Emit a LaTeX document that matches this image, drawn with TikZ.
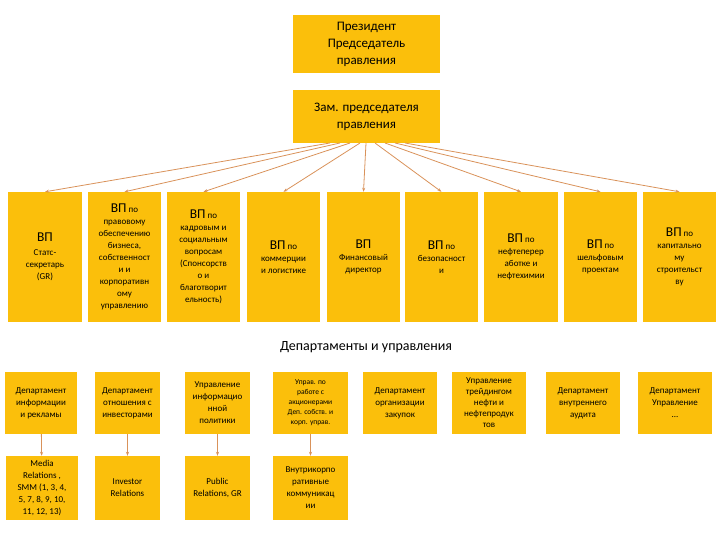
\documentclass[tikz,border=0pt]{standalone}
\usepackage{fontspec}
\setmainfont{Carlito}
\usetikzlibrary{arrows.meta}
\begin{document}
\begin{tikzpicture}[x=1pt,y=-1pt,
 ar/.style={draw=arc,line width=0.8pt,-{Stealth[length=4pt,width=3pt]}}]
\definecolor{boxc}{HTML}{FBBF0B}
\definecolor{arc}{HTML}{D9925A}
\useasboundingbox (0,0) rectangle (720,540);
\tikzset{box/.style args={#1/#2/#3/#4}{fill=boxc,draw=none,inner sep=0pt,align=center,font=\fontsize{9}{12}\selectfont,minimum width=#3-#1,minimum height=#4-#2},
 big/.style={font=\fontsize{13}{17}\selectfont}}
\newcommand{\B}[7][]{\node[box=#3/#4/#5/#6,#1] (#2) at ({(#3+#5)/2},{(#4+#6)/2}) {#7};}
\newcommand{\VP}{{\fontsize{13.5}{15}\selectfont ВП}}
\B[big]{pres}{293}{15}{440}{73}{Президент\\ Председатель\\ правления}
\B[big]{zam}{293}{90}{440}{143}{Зам. председателя\\ правления}
\B{v1}{8}{192}{82}{322}{\VP\\[2pt] Статс-\\ секретарь\\ (GR)}
\B{v2}{88}{192}{161}{322}{\VP{} по\\ правовому\\ обеспечению\\ бизнеса,\\ собственност\\ и и\\ корпоративн\\ ому\\ управлению}
\B{v3}{167}{192}{240}{322}{\VP{} по\\ кадровым и\\ социальным\\ вопросам\\ (Спонсорств\\ о и\\ благотворит\\ ельность)}
\B{v4}{247}{192}{320}{322}{\VP{} по\\ коммерции\\ и логистике}
\B{v5}{327}{192}{400}{322}{\VP\\ Финансовый\\ директор}
\B{v6}{405}{192}{478}{322}{\VP{} по\\ безопасност\\ и}
\B{v7}{484}{192}{558}{322}{\VP{} по\\ нефтеперер\\ аботке и\\ нефтехимии}
\B{v8}{564}{192}{637}{322}{\VP{} по\\ шельфовым\\ проектам}
\B{v9}{643}{192}{716}{322}{\VP{} по\\ капитально\\ му\\ строительст\\ ву}
\node[font=\fontsize{14}{16}\selectfont] (hd) at (366,347) {Департаменты и управления};
\B{d1}{5}{372}{77}{434}{Департамент\\ информации\\ и рекламы}
\B{d2}{95}{372}{160}{434}{Департамент\\ отношения с\\ инвесторами}
\B{d3}{185}{372}{250}{434}{Управление\\ информацио\\ нной\\ политики}
\B[font=\fontsize{7.5}{10}\selectfont]{d4}{273}{372}{348}{434}{Управ. по\\ работе с\\ акционерами\\ Деп. собств. и\\ корп. управ.}
\B{d5}{363}{372}{437}{434}{Департамент\\ организации\\ закупок}
\B[font=\fontsize{9}{11}\selectfont]{d6}{452}{372}{526}{434}{Управление\\ трейдингом\\ нефти и\\ нефтепродук\\ тов}
\B{d7}{546}{372}{620}{434}{Департамент\\ внутреннего\\ аудита}
\B{d8}{638}{372}{712}{434}{Департамент\\ Управление\\ ...}
\B{e1}{6}{456}{78}{520}{Media\\ Relations ,\\ SMM (1, 3, 4,\\ 5, 7, 8, 9, 10,\\ 11, 12, 13)}
\B{e2}{95}{456}{160}{520}{Investor\\ Relations}
\B{e3}{185}{456}{250}{520}{Public\\ Relations, GR}
\B{e4}{273}{456}{348}{520}{Внутрикорпо\\ ративные\\ коммуникац\\ ии}
\foreach \i/\sx in {1/330,2/340,3/350,4/360,5/366,6/375,7/385,8/395,9/405}
  \draw[ar] (\sx,143) -- (v\i.north);
\foreach \i in {1,2,3,4} \draw[ar] (d\i) -- (e\i);
\end{tikzpicture}
\end{document}
